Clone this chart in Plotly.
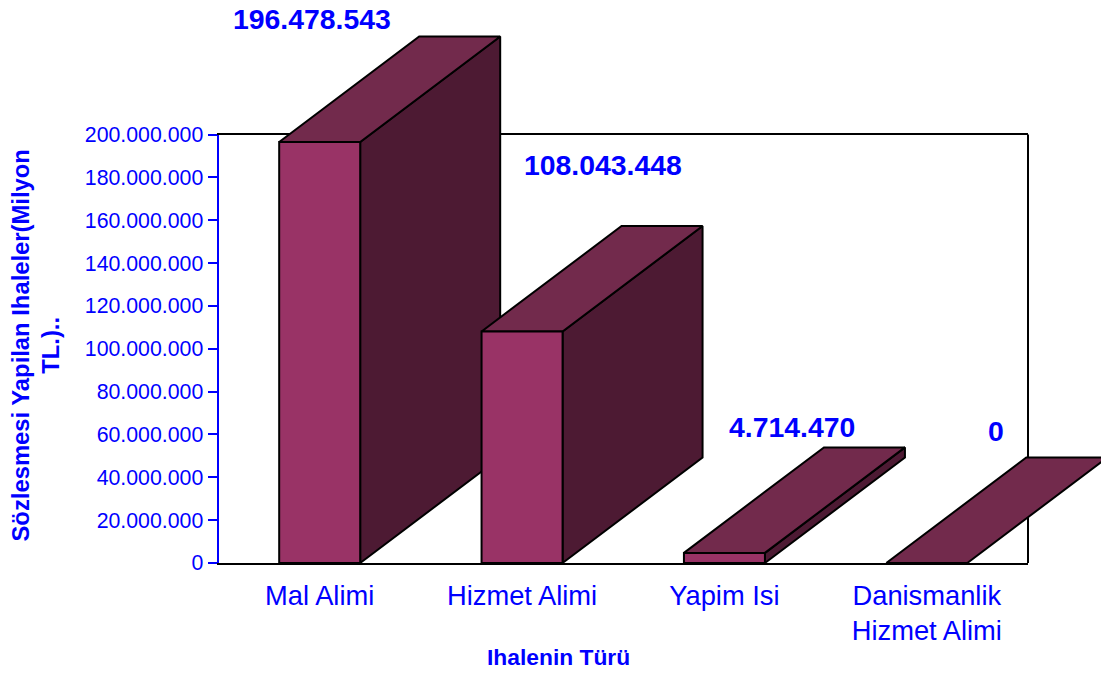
import plotly.graph_objects as go

categories = ["Mal Alimi", "Hizmet Alimi", "Yapim Isi", "Danismanlik<br>Hizmet Alimi"]
values = [196478543, 108043448, 4714470, 0]
value_labels = ["196.478.543", "108.043.448", "4.714.470", "0"]
y_ticks = list(range(0, 200000001, 20000000))
y_tick_labels = ["0"] + [f"{v:,}".replace(",", ".") for v in y_ticks[1:]]

W, H = 1101, 673
L, R, T, B = 218.5, 1028, 134.5, 563
BLUE = "#0000ff"
FRONT, TOP, SIDE = "#993366", "#722a4c", "#4d1a33"
FONT = "Liberation Sans"

slot = (R - L) / len(categories)
vpp = 200000000 / (B - T)
half = 40.5 / slot
depth_x = 140 / slot
depth_y = 105.5 * vpp

fig = go.Figure()


def poly(xs, ys, color):
    fig.add_trace(go.Scatter(
        x=xs + xs[:1], y=ys + ys[:1], xaxis="x2", yaxis="y2", mode="lines",
        fill="toself", fillcolor=color, line=dict(color="#000000", width=2),
        hoverinfo="skip", showlegend=False))


# anchor trace for the framed axes
fig.add_trace(go.Scatter(x=list(range(len(categories))), y=values, mode="markers",
                         marker=dict(opacity=0), hoverinfo="skip", showlegend=False))

for i, v in enumerate(values):
    a, b = i - half, i + half
    if v > 0:
        poly([b, b + depth_x, b + depth_x, b], [0, depth_y, v + depth_y, v], SIDE)
    poly([a, b, b + depth_x, a + depth_x], [v, v, v + depth_y, v + depth_y], TOP)
    if v > 0:
        poly([a, b, b, a], [0, 0, v, v], FRONT)

label_shift = [(-7.5, 123), (81, 167), (68, 126), (69, 132)]
for i, (v, t) in enumerate(zip(values, value_labels)):
    dx, dy = label_shift[i]
    fig.add_annotation(x=i, y=v, xref="x2", yref="y2", text=t, showarrow=False,
                       xshift=dx, yshift=dy, xanchor="center", yanchor="middle",
                       font=dict(family=FONT, size=28.4, color=BLUE, weight="bold"))

fig.add_annotation(x=35.5 / W, y=1 - 346 / H, xref="paper", yref="paper", textangle=-90,
                   text="Sözlesmesi Yapilan Ihaleler(Milyon<br>TL.)..", showarrow=False,
                   xanchor="center", yanchor="middle",
                   font=dict(family=FONT, size=23.8, color=BLUE, weight="bold"))
fig.add_annotation(x=558 / W, y=1 - 657 / H, xref="paper", yref="paper",
                   text="Ihalenin Türü", showarrow=False, xanchor="center", yanchor="middle",
                   font=dict(family=FONT, size=22.8, color=BLUE, weight="bold"))

fig.add_shape(type="line", xref="x domain", yref="y domain", x0=1, x1=1, y0=0, y1=1,
              line=dict(color="#000000", width=2), layer="below")

fig.update_layout(
    width=W, height=H, margin=dict(l=0, r=0, t=0, b=0),
    paper_bgcolor="#ffffff", plot_bgcolor="rgba(0,0,0,0)", showlegend=False,
    xaxis=dict(domain=[L / W, R / W], range=[-0.5, len(categories) - 0.5], automargin=False,
               tickmode="array", tickvals=list(range(len(categories))), ticktext=categories,
               ticks="", showgrid=False, zeroline=False, showline=True, mirror=True,
               linecolor="#000000", linewidth=2, ticklabelstandoff=7,
               tickfont=dict(family=FONT, size=27.3, color=BLUE), anchor="y"),
    yaxis=dict(domain=[1 - B / H, 1 - T / H], range=[0, 200000000], automargin=False,
               tickmode="array", tickvals=y_ticks, ticktext=y_tick_labels,
               ticks="outside", ticklen=9, tickwidth=2, tickcolor=BLUE,
               showgrid=False, zeroline=False, showline=True, linecolor=BLUE, linewidth=2,
               tickfont=dict(family=FONT, size=21.3, color=BLUE), anchor="x"),
    xaxis2=dict(domain=[0, 1], range=[-0.5 - L / slot, -0.5 + (W - L) / slot], automargin=False,
                visible=False, anchor="y2", fixedrange=True),
    yaxis2=dict(domain=[0, 1], range=[-(H - B) * vpp, B * vpp], automargin=False,
                visible=False, anchor="x2", fixedrange=True),
)

fig.write_html("out.html", config=dict(displayModeBar=False),
               post_script="document.body.style.margin='0';document.documentElement.style.overflow='hidden';")
